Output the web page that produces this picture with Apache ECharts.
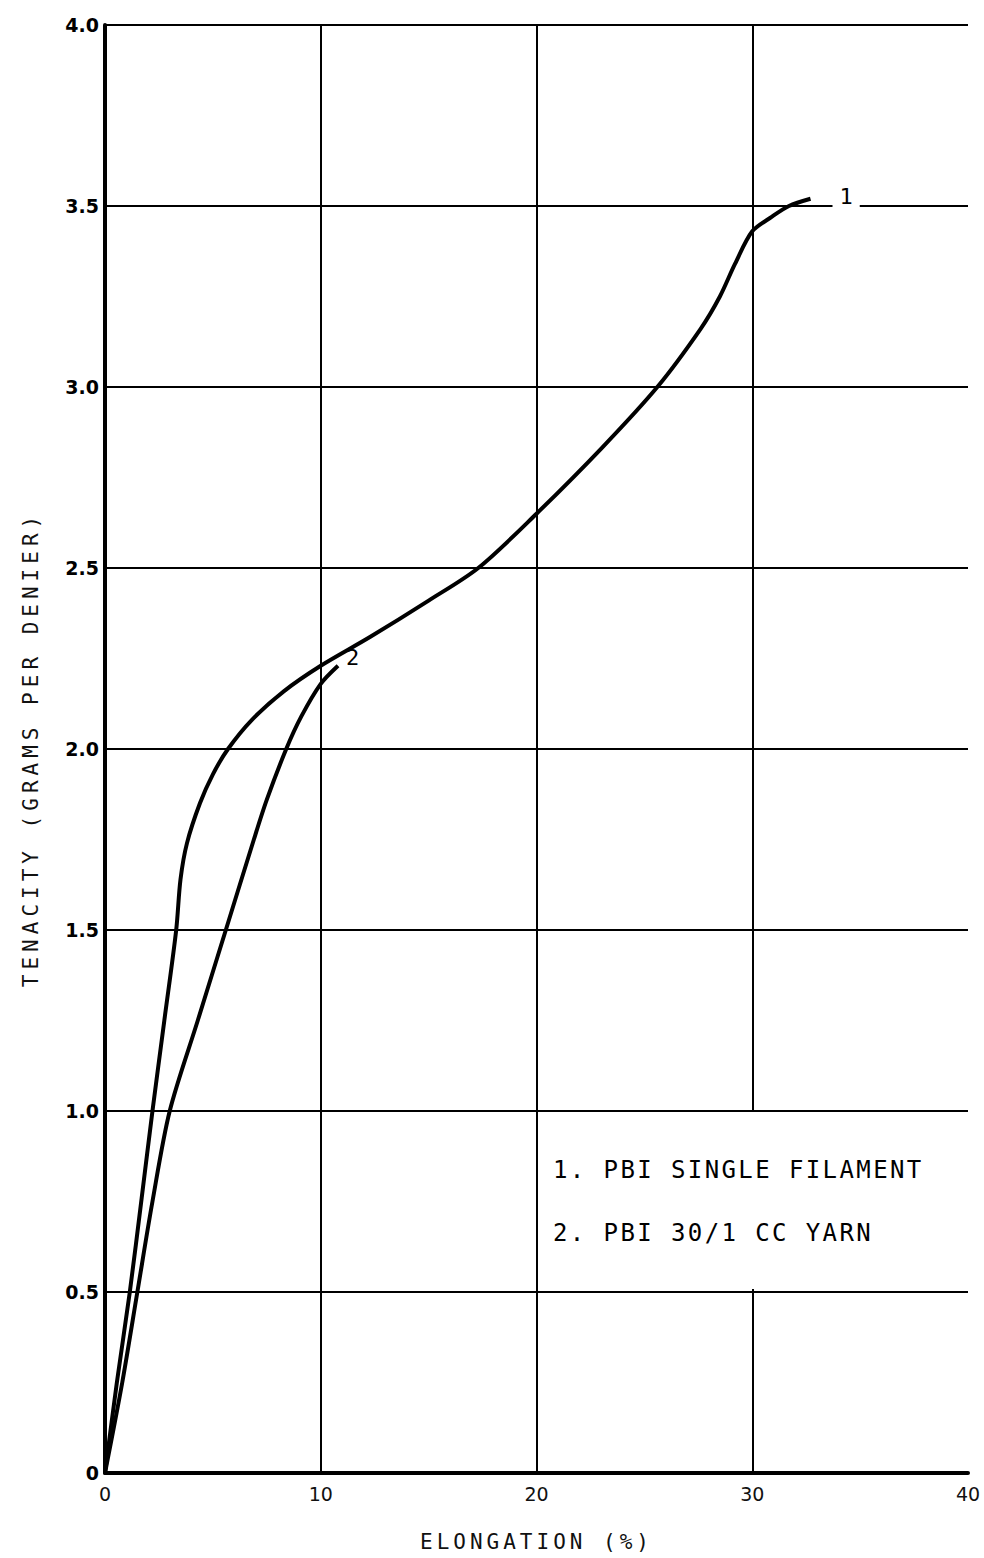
<!DOCTYPE html>
<html>
<head>
<meta charset="utf-8">
<script src="https://cdn.jsdelivr.net/npm/echarts@6/dist/echarts.min.js"></script>
<style>
html,body{margin:0;padding:0;background:#fff;}
#chart{width:984px;height:1558px;}
</style>
</head>
<body>
<div id="chart"></div>
<script>
// Curve 1: PBI single filament  [elongation %, tenacity g/den]
const filamentElong = [0, 0.55, 1.15, 1.7, 2.2, 2.75, 3.3, 3.5, 3.8, 4.4, 5.0, 5.7, 6.8, 8.3, 10, 12.3, 15, 17.3, 20, 23, 25.6, 27.6, 28.5, 29.2, 30, 30.9, 31.7, 32.7];
const filamentTen   = [0, 0.25, 0.5, 0.76, 1.0, 1.25, 1.5, 1.64, 1.74, 1.85, 1.93, 2.0, 2.08, 2.16, 2.23, 2.31, 2.41, 2.5, 2.65, 2.83, 3.0, 3.16, 3.25, 3.34, 3.43, 3.47, 3.50, 3.52];
// Curve 2: PBI 30/1 CC yarn
const yarnElong = [0, 0.8, 1.5, 2.2, 3.0, 4.3, 5.6, 6.9, 7.5, 8.4, 9.1, 10, 10.8];
const yarnTen   = [0, 0.25, 0.5, 0.75, 1.0, 1.25, 1.5, 1.75, 1.86, 2.0, 2.09, 2.18, 2.23];

const curveLabels = ['1', '2'];
const legendLines = ['1. PBI SINGLE FILAMENT', '2. PBI 30/1 CC YARN'];
const xTickLabels = ['0', '10', '20', '30', '40'];
const yTickLabels = ['0', '0.5', '1.0', '1.5', '2.0', '2.5', '3.0', '3.5', '4.0'];
const xName = 'ELONGATION (%)';
const yName = 'TENACITY (GRAMS PER DENIER)';

const zip = (xs, ys) => xs.map((x, i) => [x, ys[i]]);

const mono = '"DejaVu Sans Mono", monospace';
const chart = echarts.init(document.getElementById('chart'), null, { renderer: 'svg' });
const option = {
  backgroundColor: '#fff',
  animation: false,
  grid: { left: 105, right: 16, top: 25, bottom: 85, containLabel: false },
  xAxis: {
    type: 'value', min: 0, max: 40, interval: 10,
    name: xName, nameLocation: 'middle', nameGap: 58,
    nameTextStyle: { fontFamily: mono, fontSize: 21, color: '#111' },
    axisLine: { show: true, lineStyle: { color: '#000', width: 4 } },
    axisTick: { show: false },
    axisLabel: { margin: 11, fontFamily: '"DejaVu Sans", sans-serif', fontSize: 19, color: '#111',
      formatter: (v) => xTickLabels[Math.round(v / 10)] },
    splitLine: { show: true, showMinLine: false, showMaxLine: false, lineStyle: { color: '#000', width: 2 } }
  },
  yAxis: {
    type: 'value', min: 0, max: 4, interval: 0.5,
    name: yName, nameLocation: 'middle', nameGap: 64, nameRotate: 90,
    nameTextStyle: { fontFamily: mono, fontSize: 21, color: '#111' },
    axisLine: { show: true, lineStyle: { color: '#000', width: 4 } },
    axisTick: { show: false },
    axisLabel: { margin: 6, fontFamily: '"DejaVu Sans", sans-serif', fontWeight: 'bold', fontSize: 19, color: '#000',
      formatter: (v) => yTickLabels[Math.round(v * 2)] },
    splitLine: { show: true, showMinLine: false, lineStyle: { color: '#000', width: 2 } }
  },
  series: [
    {
      type: 'line', smooth: 0.3, symbol: 'none', z: 3,
      lineStyle: { color: '#000', width: 4 },
      endLabel: { show: true, formatter: curveLabels[0], distance: 22, offset: [0, -2],
        fontFamily: mono, fontSize: 22, color: '#000', backgroundColor: '#fff', padding: [2, 7] },
      data: zip(filamentElong, filamentTen)
    },
    {
      type: 'line', smooth: 0.3, symbol: 'none', z: 3,
      lineStyle: { color: '#000', width: 4 },
      endLabel: { show: true, formatter: curveLabels[1], distance: 8, offset: [0, -8],
        fontFamily: mono, fontSize: 22, color: '#000' },
      data: zip(yarnElong, yarnTen)
    }
  ],
  graphic: [
    { type: 'rect', z: 10, shape: { x: 539, y: 1112, width: 428, height: 177 }, style: { fill: '#fff' } },
    { type: 'text', z: 11, left: 553, top: 1158, style: { text: legendLines[0], font: '24px ' + mono, fill: '#000' } },
    { type: 'text', z: 11, left: 553, top: 1221, style: { text: legendLines[1], font: '24px ' + mono, fill: '#000' } }
  ]
};
chart.setOption(option);

// widen the typewriter-style captions (letter spacing) in the SVG output
const spacing = {};
spacing[legendLines[0]] = '2.4px';
spacing[legendLines[1]] = '2.4px';
spacing[xName] = '4px';
spacing[yName] = '5px';
function applySpacing() {
  document.querySelectorAll('#chart svg text').forEach((t) => {
    const s = spacing[t.textContent];
    if (s) t.style.letterSpacing = s;
  });
}
applySpacing();
chart.on('finished', applySpacing);
</script>
</body>
</html>
